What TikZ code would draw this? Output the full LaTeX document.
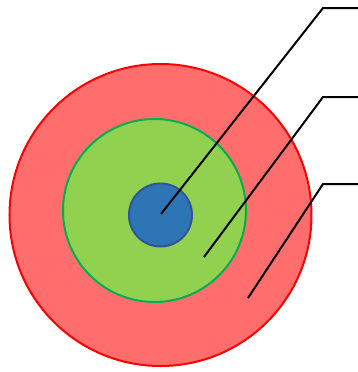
\documentclass[tikz,border=0pt]{standalone}
\usepackage{tikz}
\usetikzlibrary{positioning}
\definecolor{ringred}{HTML}{FF6D6D}
\definecolor{ringgreen}{HTML}{92D050}
\definecolor{edgegreen}{HTML}{00B050}
\definecolor{coreblue}{HTML}{2E75B6}
\definecolor{edgeblue}{HTML}{2F5597}
\tikzset{
  ring/.style={circle, inner sep=0pt, line width=1pt},
  leader/.style={line width=1pt, black}
}

\begin{document}
\begin{tikzpicture}[x=0.5pt,y=-0.5pt]
            \useasboundingbox (0,0) rectangle (358,372);
            \node [ring, draw=red, fill=ringred, minimum size=151pt] (outer) at (160.5,215) {};
            \node [ring, draw=edgegreen, fill=ringgreen, minimum size=91.5pt] (middle) at (154.5,210.5) {};
            \node [ring, draw=edgeblue, fill=coreblue, minimum size=31.5pt] (core) at (160.5,215) {};
            % leader lines
            \coordinate (p1) at (161,214);
            \coordinate (p2) at (204,257);
            \coordinate (p3) at (248,298);
            \coordinate (k1) at (323,8);
            \coordinate (k2) at (323,97);
            \coordinate (k3) at (323,184);
            \coordinate (e1) at (358,8);
            \coordinate (e2) at (358,97);
            \coordinate (e3) at (358,184);
            \draw [leader] (p1) -- (k1) -- (e1);
            \draw [leader] (p2) -- (k2) -- (e2);
            \draw [leader] (p3) -- (k3) -- (e3);
        \end{tikzpicture}
\end{document}
